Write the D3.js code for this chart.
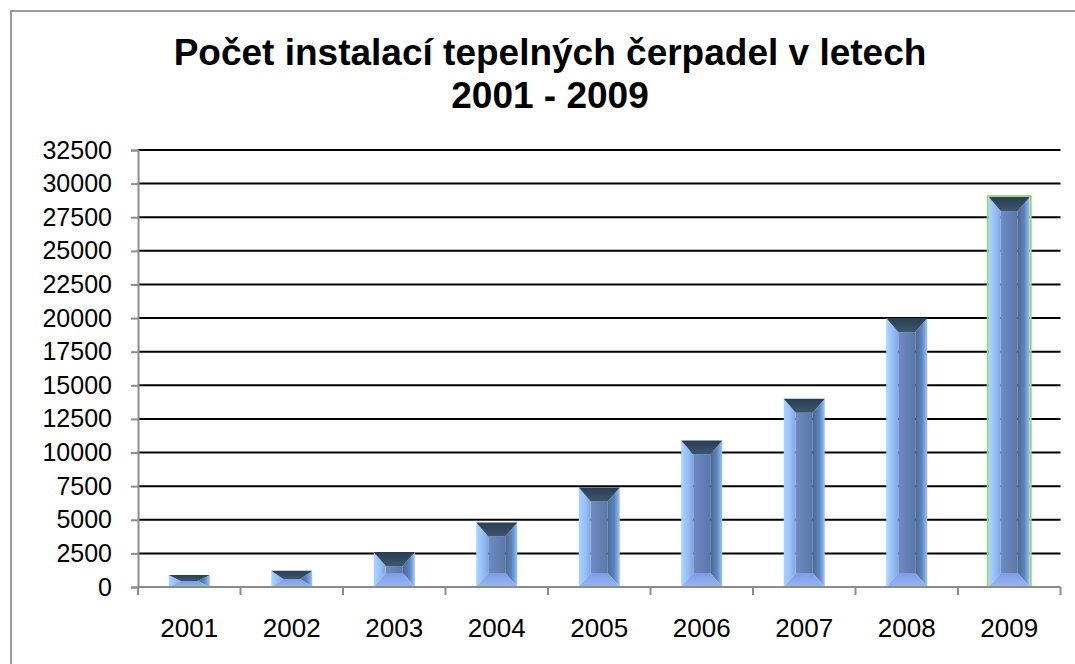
<!DOCTYPE html>
<html>
<head>
<meta charset="utf-8">
<script src="https://cdn.jsdelivr.net/npm/d3@7"></script>
<style>
  html, body { margin: 0; padding: 0; background: #fff; }
  svg { display: block; font-family: "Liberation Sans", Arial, sans-serif; }
</style>
</head>
<body>
<svg id="chart" width="1075" height="664"></svg>
<script>
// ---- data ----
const titleLines = ["Počet instalací tepelných čerpadel v letech", "2001 - 2009"];
const years = ["2001", "2002", "2003", "2004", "2005", "2006", "2007", "2008", "2009"];
const installs = [900, 1200, 2600, 4800, 7400, 10900, 14000, 20000, 29000];
const yTicks = [0, 2500, 5000, 7500, 10000, 12500, 15000, 17500, 20000, 22500, 25000, 27500, 30000, 32500];

// ---- layout ----
const W = 1075, H = 664;
const plot = { left: 138, right: 1060.5, top: 150, bottom: 587 };

const svg = d3.select("#chart");

// outer frame (extends past the visible window like the reference)
svg.append("rect")
  .attr("x", 11).attr("y", 11)
  .attr("width", W + 20).attr("height", H + 20)
  .attr("fill", "#fff").attr("stroke", "#9a9a9a").attr("stroke-width", 2);

// title
const title = svg.append("text")
  .attr("text-anchor", "middle")
  .attr("font-weight", "bold")
  .attr("font-size", 37)
  .attr("fill", "#000");
title.selectAll("tspan").data(titleLines).join("tspan")
  .attr("x", 550)
  .attr("y", (d, i) => 65 + i * 43)
  .text(d => d);

// scales
const x = d3.scaleBand().domain(years).range([plot.left, plot.right]).padding(0);
const y = d3.scaleLinear().domain([0, 32500]).range([plot.bottom, plot.top]);

// gridlines
svg.append("g").selectAll("line")
  .data(yTicks.filter(t => t > 0)).join("line")
  .attr("x1", plot.left).attr("x2", plot.right)
  .attr("y1", d => y(d)).attr("y2", d => y(d))
  .attr("stroke", "#000").attr("stroke-width", 2);

// y axis
const yAxis = svg.append("g")
  .attr("transform", `translate(${plot.left},0)`)
  .call(d3.axisLeft(y).tickValues(yTicks).tickFormat(d3.format("d")).tickSize(7).tickPadding(19));
yAxis.select(".domain").attr("stroke", "#8c8c8c").attr("stroke-width", 2);
yAxis.selectAll(".tick line").attr("stroke", "#8c8c8c").attr("stroke-width", 2);
yAxis.selectAll(".tick text")
  .attr("font-size", 25).attr("fill", "#000")
  .attr("font-family", "'Liberation Sans', Arial, sans-serif");

// bars with bevel
const defs = svg.append("defs");
function lg(id, dir, stops) {
  const g = defs.append("linearGradient").attr("id", id);
  if (dir === "h") g.attr("x1", 0).attr("y1", 0).attr("x2", 1).attr("y2", 0);
  else g.attr("x1", 0).attr("y1", 0).attr("x2", 0).attr("y2", 1);
  stops.forEach(s => g.append("stop").attr("offset", s[0]).attr("stop-color", s[1]));
}
lg("gLeft", "h", [[0, "#acd3ff"], [0.5, "#98c1f8"], [1, "#82a6e2"]]);
lg("gRight", "h", [[0, "#4c6994"], [0.55, "#5f83ba"], [1, "#96c6ff"]]);
lg("gTop", "v", [[0, "#2a3d52"], [1, "#3d5670"]]);
lg("gBot", "v", [[0, "#7e9be2"], [1, "#96b6fa"]]);
lg("gFace", "h", [[0, "#6d8bc4"], [0.5, "#6580b6"], [1, "#5b77a8"]]);

const barFrac = 0.4;
const bw = x.bandwidth() * barFrac;
const bars = svg.append("g").selectAll("g")
  .data(years.map((yr, i) => ({ yr, v: installs[i], last: i === years.length - 1 })))
  .join("g");

bars.each(function (d) {
  const g = d3.select(this);
  const x0 = x(d.yr) + (x.bandwidth() - bw) / 2, x1 = x0 + bw;
  const y0 = y(d.v), y1 = y(0);
  const h = y1 - y0;
  const bx = Math.min(12, bw / 2);
  const by = Math.min(14, h / 2);
  const pts = a => a.map(p => p.join(",")).join(" ");
  g.append("rect").attr("x", x0 + bx).attr("y", y0 + by)
    .attr("width", bw - 2 * bx).attr("height", Math.max(0, h - 2 * by))
    .attr("fill", "url(#gFace)");
  g.append("polygon").attr("points", pts([[x0, y0], [x0 + bx, y0 + by], [x0 + bx, y1 - by], [x0, y1]]))
    .attr("fill", "url(#gLeft)");
  g.append("polygon").attr("points", pts([[x1, y0], [x1 - bx, y0 + by], [x1 - bx, y1 - by], [x1, y1]]))
    .attr("fill", "url(#gRight)");
  g.append("polygon").attr("points", pts([[x0, y1], [x1, y1], [x1 - bx, y1 - by], [x0 + bx, y1 - by]]))
    .attr("fill", "url(#gBot)");
  g.append("polygon").attr("points", pts([[x0, y0], [x1, y0], [x1 - bx, y0 + by], [x0 + bx, y0 + by]]))
    .attr("fill", "url(#gTop)");
  if (d.last) {
    g.append("rect").attr("x", x0 - 1).attr("y", y0 - 1)
      .attr("width", bw + 2).attr("height", h + 1)
      .attr("fill", "none").attr("stroke", "#9bd87c").attr("stroke-width", 2);
  }
});

// x axis (ticks at category boundaries)
const xg = svg.append("g").attr("transform", `translate(0,${plot.bottom})`);
const bounds = years.map(yv => x(yv)).concat([plot.right]);
xg.append("line").attr("x1", plot.left).attr("x2", plot.right)
  .attr("y1", 0).attr("y2", 0).attr("stroke", "#8c8c8c").attr("stroke-width", 2);
xg.selectAll("line.tk").data(bounds).join("line").attr("class", "tk")
  .attr("x1", d => d).attr("x2", d => d).attr("y1", 0).attr("y2", 8)
  .attr("stroke", "#8c8c8c").attr("stroke-width", 2);
xg.selectAll("text").data(years).join("text")
  .attr("x", d => x(d) + x.bandwidth() / 2)
  .attr("y", 50)
  .attr("text-anchor", "middle")
  .attr("font-size", 26)
  .attr("fill", "#000")
  .text(d => d);
</script>
</body>
</html>
